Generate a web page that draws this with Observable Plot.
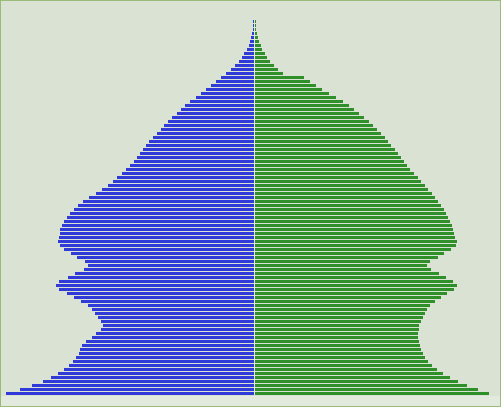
<!DOCTYPE html>
<html>
<head>
<meta charset="utf-8">
<script src="https://cdn.jsdelivr.net/npm/d3@7"></script>
<script src="https://cdn.jsdelivr.net/npm/@observablehq/plot@0.6"></script>
<style>
  html, body { margin: 0; padding: 0; background: #E2EADD; }
  #wrap { width: 501px; height: 407px; box-sizing: border-box; border: 1px solid #9BBB7A; background: #E2EADD; overflow: hidden; }
  #wrap svg { display: block; }
</style>
</head>
<body>
<div id="wrap"></div>
<script>
// Ages from top (oldest) to bottom (youngest)
const ages = d3.range(93, -1, -1);
const male = [
  1, 1, 1, 2, 3, 4, 5, 7, 10, 12,
  15, 19, 23, 28, 33, 38, 43, 48, 53, 58,
  64, 69, 73, 77, 82, 86, 90, 93, 97, 101,
  105, 108, 111, 114, 117, 120, 124, 128, 132, 137,
  141, 146, 152, 158, 165, 171, 176, 180, 184, 187,
  190, 192, 194, 194, 195, 196, 194, 190, 183, 177,
  169, 166, 170, 179, 186, 195, 198, 195, 187, 180,
  173, 166, 162, 159, 156, 153, 151, 153, 158, 162,
  168, 172, 174, 175, 178, 181, 185, 190, 196, 203,
  211, 222, 234, 248
];
const female = [
  1, 1, 1, 2, 3, 4, 6, 7, 10, 12,
  15, 19, 23, 28, 49, 55, 61, 67, 74, 81,
  88, 94, 99, 104, 109, 114, 118, 122, 126, 130,
  133, 136, 140, 143, 146, 149, 152, 155, 159, 163,
  166, 170, 173, 177, 180, 183, 186, 189, 191, 193,
  195, 197, 198, 199, 200, 202, 201, 196, 189, 183,
  175, 172, 176, 184, 191, 198, 202, 199, 192, 186,
  180, 175, 172, 170, 168, 166, 164, 164, 163, 163,
  164, 165, 166, 168, 170, 173, 177, 182, 188, 195,
  203, 212, 223, 234
];

const rows = ages.map((a, i) => ({age: a, male: male[i], female: female[i]}));

const chart = Plot.plot({
  width: 499,
  height: 395,
  marginTop: 18.5,
  marginBottom: 0.5,
  marginLeft: 0,
  marginRight: 0,
  style: {background: "#DAE3D3"},
  x: {domain: [-253.5, 245.5], axis: null},
  y: {type: "band", domain: ages, paddingInner: 0.25, paddingOuter: 0.125, round: false, axis: null},
  marks: [
    Plot.ruleX([0], {stroke: "#E6EDE2", strokeWidth: 1}),
    Plot.barX(rows, {y: "age", x1: d => -d.male, x2: 0, dx: -0.5, fill: "#2F3AD9"}),
    Plot.barX(rows, {y: "age", x1: 0, x2: "female", dx: 0.5, fill: "#2F902A"})
  ]
});
document.getElementById("wrap").appendChild(chart);
</script>
</body>
</html>
